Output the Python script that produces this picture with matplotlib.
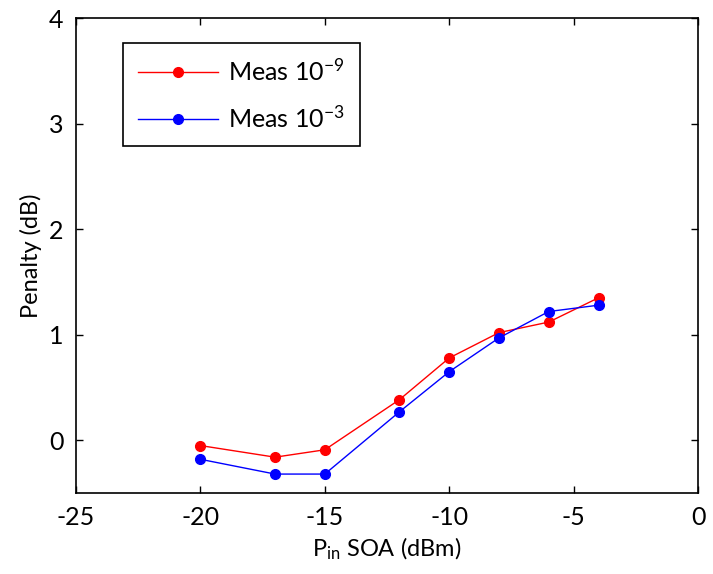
import matplotlib
matplotlib.use("Agg")
import matplotlib.pyplot as plt

x_vals = [-20, -17, -15, -12, -10, -8, -6, -4]
meas_1e9 = [-0.05, -0.16, -0.09, 0.385, 0.78, 1.02, 1.12, 1.35]
meas_1e3 = [-0.18, -0.32, -0.32, 0.27, 0.65, 0.97, 1.22, 1.28]
x_ticks = [-25, -20, -15, -10, -5, 0]
y_ticks = [0, 1, 2, 3, 4]

plt.rcParams['font.family'] = ['Lato', 'DejaVu Sans']
plt.rcParams['mathtext.fontset'] = 'custom'
plt.rcParams['mathtext.rm'] = 'Lato'
plt.rcParams['mathtext.it'] = 'Lato'
plt.rcParams['axes.unicode_minus'] = False

fig = plt.figure(figsize=(7.13, 5.74), dpi=100)
ax = fig.add_axes([0.1066, 0.141, 0.8724, 0.8275])

ax.plot(x_vals, meas_1e9, color='red', lw=1, marker='o', ms=7, label='Meas 10$^{-9}$')
ax.plot(x_vals, meas_1e3, color='blue', lw=1, marker='o', ms=7, label='Meas 10$^{-3}$')

ax.set_xlim(-25, 0)
ax.set_ylim(-0.5, 4)
ax.set_xticks(x_ticks)
ax.set_yticks(y_ticks)
ax.set_xticklabels([str(t) for t in x_ticks])
ax.set_yticklabels([str(t) for t in y_ticks])
ax.tick_params(direction='in', top=True, right=True, labelsize=18, length=5, width=1, pad=9)
for s in ax.spines.values():
    s.set_linewidth(1.2)

ax.set_xlabel('P$_{\\mathrm{in}}$ SOA (dBm)', fontsize=17, labelpad=5)
ax.set_ylabel('Penalty (dB)', fontsize=17, labelpad=5)

leg = ax.legend(loc='upper left', bbox_to_anchor=(0.0756, 0.947), borderaxespad=0,
                fancybox=False, edgecolor='black', framealpha=1, fontsize=18,
                handlelength=3.2, handletextpad=0.4, borderpad=0.6, labelspacing=0.8)
leg.get_frame().set_linewidth(1.2)

fig.savefig('out.png', dpi=100)
